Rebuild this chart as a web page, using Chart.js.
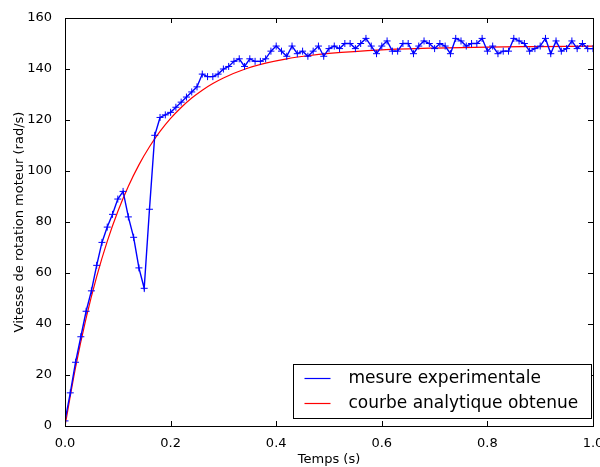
<!DOCTYPE html>
<html lang="fr">
<head>
  <meta charset="UTF-8">
  <title>Vitesse moteur</title>
  <script src="https://cdn.jsdelivr.net/npm/chart.js"></script>
  <style>
    html, body { margin: 0; padding: 0; background: #fff; }
    #wrap { width: 600px; height: 467px; }
  </style>
</head>
<body>
  <div id="wrap"><canvas id="chart" width="600" height="467"></canvas></div>

<script>
  // mesures (pas de 0.01 s)
  const temps = [0.00, 0.01, 0.02, 0.03, 0.04, 0.05, 0.06, 0.07, 0.08, 0.09,
    0.10, 0.11, 0.12, 0.13, 0.14, 0.15, 0.16, 0.17, 0.18, 0.19,
    0.20, 0.21, 0.22, 0.23, 0.24, 0.25, 0.26, 0.27, 0.28, 0.29,
    0.30, 0.31, 0.32, 0.33, 0.34, 0.35, 0.36, 0.37, 0.38, 0.39,
    0.40, 0.41, 0.42, 0.43, 0.44, 0.45, 0.46, 0.47, 0.48, 0.49,
    0.50, 0.51, 0.52, 0.53, 0.54, 0.55, 0.56, 0.57, 0.58, 0.59,
    0.60, 0.61, 0.62, 0.63, 0.64, 0.65, 0.66, 0.67, 0.68, 0.69,
    0.70, 0.71, 0.72, 0.73, 0.74, 0.75, 0.76, 0.77, 0.78, 0.79,
    0.80, 0.81, 0.82, 0.83, 0.84, 0.85, 0.86, 0.87, 0.88, 0.89,
    0.90, 0.91, 0.92, 0.93, 0.94, 0.95, 0.96, 0.97, 0.98, 0.99, 1.00];
  const mesure = [2, 13, 25, 35, 45, 53, 63, 72, 78, 83,
    89, 92, 82, 74, 62, 54, 85, 114, 121, 122,
    123, 125, 127, 129, 131, 133, 138, 137, 137, 138,
    140, 141, 143, 144, 141, 144, 143, 143, 144, 147,
    149, 147, 145, 149, 146, 147, 145, 147, 149, 145,
    148, 149, 148, 150, 150, 148, 150, 152, 149, 146,
    149, 151, 147, 147, 150, 150, 146, 149, 151, 150,
    148, 150, 149, 146, 152, 151, 149, 150, 150, 152,
    147, 149, 146, 147, 147, 152, 151, 150, 147, 148,
    149, 152, 146, 151, 147, 148, 151, 148, 150, 148, 148];

  // courbe analytique
  const tempsModele = [0, 0.02, 0.04, 0.06, 0.08, 0.10, 0.12, 0.14, 0.16, 0.18,
    0.20, 0.22, 0.24, 0.26, 0.28, 0.30, 0.34, 0.38, 0.42, 0.46,
    0.50, 0.60, 0.70, 0.80, 0.90, 1.00];
  const modele = [0, 23, 42.3, 58.6, 72.4, 84.1, 94, 102.4, 109.5, 115.5,
    120.6, 124.9, 128.6, 131.7, 134.3, 136.5, 139.9, 142.3, 144, 145.2,
    146.1, 147.5, 148.2, 148.6, 148.8, 149];

  const xTicks = [0, 0.2, 0.4, 0.6, 0.8, 1.0];
  const yTicks = [0, 20, 40, 60, 80, 100, 120, 140, 160];

  const police = "'DejaVu Sans', sans-serif";

  // cadre noir + graduations vers l'interieur sur les 4 cotes
  const cadre = {
    id: 'cadre',
    afterDraw(chart) {
      const c = chart.ctx, a = chart.chartArea;
      const sx = chart.scales.x, sy = chart.scales.y;
      c.save();
      c.strokeStyle = '#000';
      c.lineWidth = 1;
      c.strokeRect(Math.round(a.left) + 0.5, Math.round(a.top) + 0.5,
        Math.round(a.right - a.left), Math.round(a.bottom - a.top));
      c.beginPath();
      xTicks.forEach(v => {
        const px = Math.round(sx.getPixelForValue(v)) + 0.5;
        c.moveTo(px, a.bottom); c.lineTo(px, a.bottom - 5);
        c.moveTo(px, a.top); c.lineTo(px, a.top + 5);
      });
      yTicks.forEach(v => {
        const py = Math.round(sy.getPixelForValue(v)) + 0.5;
        c.moveTo(a.left, py); c.lineTo(a.left + 5, py);
        c.moveTo(a.right, py); c.lineTo(a.right - 5, py);
      });
      c.stroke();

      // legende dans le coin bas droit
      const bw = 298, bh = 54;
      const bx = Math.round(a.right) - 300 + 0.5, by = Math.round(a.bottom) - 62 + 0.5;
      c.fillStyle = '#fff';
      c.fillRect(bx, by, bw, bh);
      c.strokeRect(bx, by, bw, bh);
      c.font = '17px ' + police;
      c.textBaseline = 'middle';
      chart.data.datasets.forEach((ds, i) => {
        const ly = by + 14 + i * 25;
        c.strokeStyle = ds.borderColor;
        c.lineWidth = 1.2;
        c.beginPath();
        c.moveTo(bx + 11, ly); c.lineTo(bx + 37, ly);
        c.stroke();
        c.fillStyle = '#000';
        c.fillText(ds.label, bx + 55, ly);
      });
      c.restore();
    }
  };

  new Chart(document.getElementById('chart'), {
    type: 'line',
    data: {
      datasets: [{
        label: 'mesure experimentale',
        data: temps.map((t, i) => ({ x: t, y: mesure[i] })),
        borderColor: '#0000ff',
        borderWidth: 1.4,
        pointStyle: 'cross',
        pointRadius: 3.5,
        pointBorderColor: '#0000ff',
        pointBorderWidth: 1,
        tension: 0,
        order: 1
      }, {
        label: 'courbe analytique obtenue',
        data: tempsModele.map((t, i) => ({ x: t, y: modele[i] })),
        borderColor: '#ff0000',
        borderWidth: 1.2,
        pointRadius: 0,
        cubicInterpolationMode: 'monotone',
        order: 2
      }]
    },
    options: {
      responsive: false,
      animation: false,
      layout: { padding: { top: 18, right: 7, left: 0, bottom: 0 } },
      plugins: { legend: { display: false }, tooltip: { enabled: false } },
      scales: {
        x: {
          type: 'linear',
          min: 0, max: 1,
          grid: { display: false },
          border: { display: false },
          afterBuildTicks: s => { s.ticks = xTicks.map(v => ({ value: v })); },
          afterFit: s => { s.height = 41; s.paddingLeft = 0; s.paddingRight = 0; },
          ticks: {
            color: '#000', padding: 2, maxRotation: 0, autoSkip: false,
            font: { family: police, size: 13 },
            callback: v => v.toFixed(1)
          },
          title: {
            display: true, text: 'Temps (s)', color: '#000', padding: { top: 2, bottom: 0 },
            font: { family: police, size: 13 }
          }
        },
        y: {
          min: 0, max: 160,
          grid: { display: false },
          border: { display: false },
          afterBuildTicks: s => { s.ticks = yTicks.map(v => ({ value: v })); },
          afterFit: s => { s.width = 65; s.paddingTop = 0; s.paddingBottom = 0; },
          ticks: {
            color: '#000', padding: 5, autoSkip: false,
            font: { family: police, size: 13 }
          },
          title: {
            display: true, text: 'Vitesse de rotation moteur (rad/s)', color: '#000',
            padding: { top: 12, bottom: 2 },
            font: { family: police, size: 13 }
          }
        }
      }
    },
    plugins: [cadre]
  });
</script>
</body>
</html>
